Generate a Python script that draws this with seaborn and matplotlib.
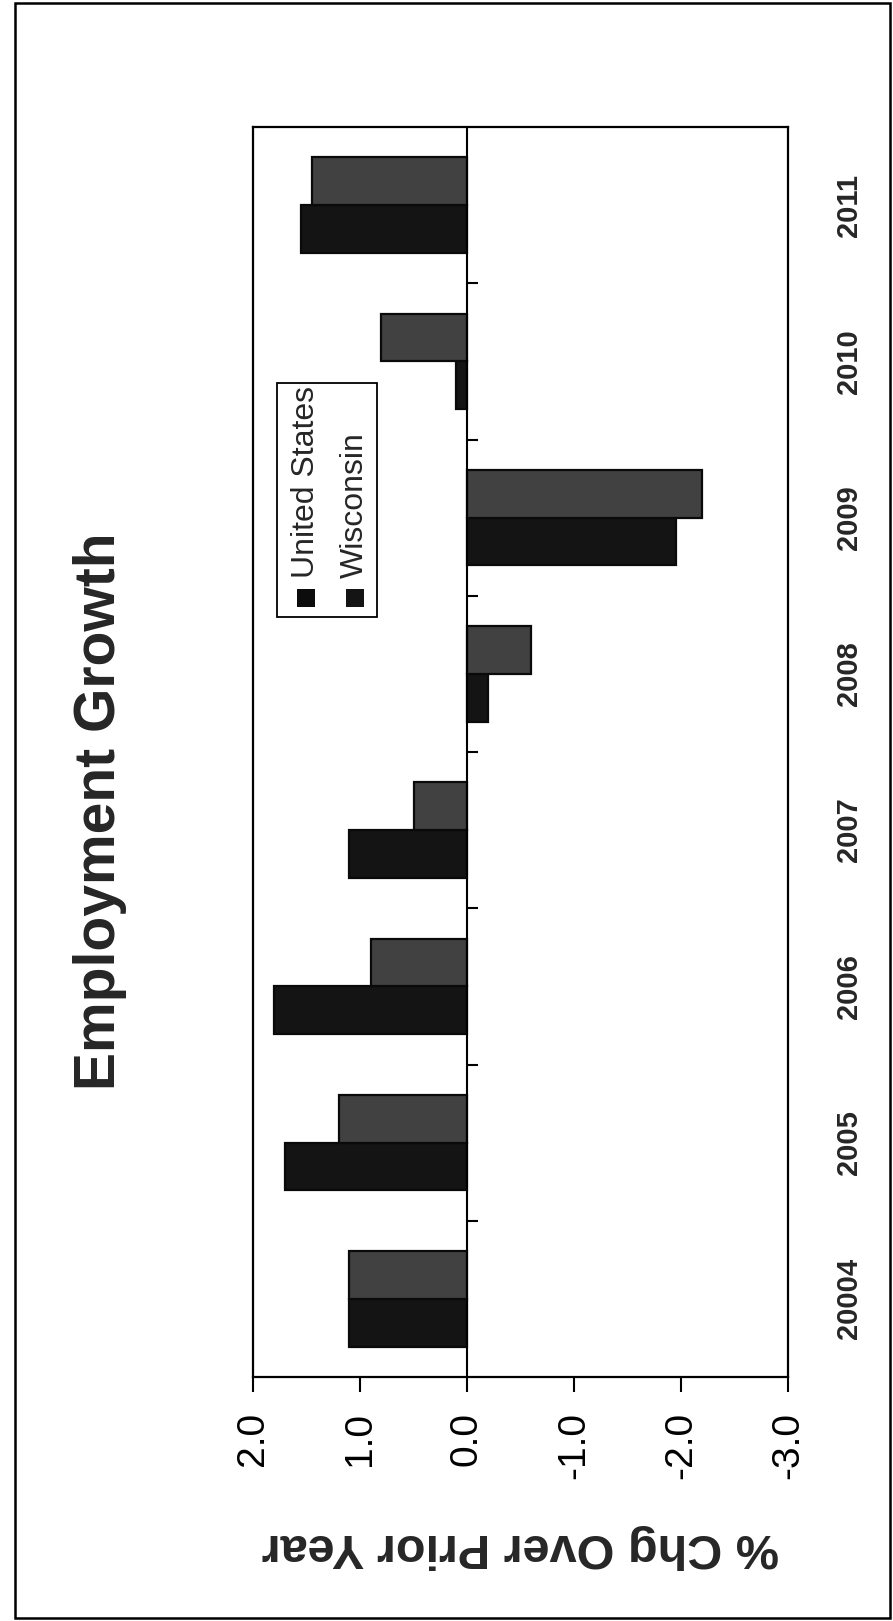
import numpy as np
import pandas as pd
import seaborn as sns
import matplotlib
matplotlib.use("Agg")
import matplotlib.pyplot as plt
from matplotlib.patches import Rectangle

# Annual employment growth, % change over prior year
years = ["20004", "2005", "2006", "2007", "2008", "2009", "2010", "2011"]
united_states = [1.1, 1.7, 1.8, 1.1, -0.2, -1.95, 0.1, 1.55]
wisconsin = [1.1, 1.2, 0.9, 0.5, -0.6, -2.2, 0.8, 1.45]
series_names = ["United States", "Wisconsin"]
value_ticks = [2.0, 1.0, 0.0, -1.0, -2.0, -3.0]
value_tick_labels = ["2.0", "1.0", "0.0", "-1.0", "-2.0", "-3.0"]

title = "Employment Growth"
value_label = "% Chg Over Prior Year"

df = pd.DataFrame({
    "year": years * 2,
    "value": united_states + wisconsin,
    "region": [series_names[0]] * len(years) + [series_names[1]] * len(years),
})

sns.set_style("white")
plt.rcParams["font.family"] = ["Liberation Sans", "DejaVu Sans"]

W, H = 893, 1621
fig = plt.figure(figsize=(W / 100, H / 100), dpi=100)
fig.patch.set_facecolor("white")

# plot box in pixel terms
left_px, right_px, top_px, bottom_px = 253, 788, 127, 1377
ax = fig.add_axes([left_px / W, (H - bottom_px) / H,
                   (right_px - left_px) / W, (bottom_px - top_px) / H])

colors = {"United States": "#141414", "Wisconsin": "#414141"}
sns.barplot(data=df, x="value", y="year", hue="region", order=years,
            hue_order=series_names, orient="h", width=0.61,
            palette=colors, saturation=1, edgecolor="#0a0a0a",
            linewidth=1.6, legend=False, ax=ax)

# categories run upward from the bottom; values decrease to the right
ax.invert_yaxis()
ax.set_ylim(-0.5, len(years) - 0.5)
ax.set_xlim(value_ticks[0], value_ticks[-1])

# category axis sits on the zero line with short ticks between groups
ax.axvline(0, color="black", lw=1.5, zorder=5)
bounds = np.arange(len(years) - 1) + 0.5
ax.hlines(bounds, 0, -0.1, color="black", lw=1.5, zorder=5)

for s in ax.spines.values():
    s.set_visible(True)
    s.set_color("black")
    s.set_linewidth(1.6)

ax.set_xticks(value_ticks)
ax.set_xticklabels(value_tick_labels, rotation=90, fontsize=28)
ax.tick_params(axis="x", direction="out", length=11, width=1.5,
               pad=14, bottom=True, colors="black")

ax.yaxis.tick_right()
ax.set_yticks(range(len(years)))
ax.set_yticklabels(years, rotation=90, fontsize=21, fontweight="bold",
                   va="center")
ax.tick_params(axis="y", length=0, pad=34)
ax.set_ylabel("")

ax.set_xlabel(value_label, rotation=180, fontsize=35, fontweight="bold",
              va="center")
ax.xaxis.set_label_coords(0.5, (bottom_px - 1546) / (bottom_px - top_px))

# legend box with vertical entries
lg_x0 = (277 - left_px) / (right_px - left_px)
lg_x1 = (377 - left_px) / (right_px - left_px)
lg_y0 = (bottom_px - 617) / (bottom_px - top_px)
lg_y1 = (bottom_px - 383) / (bottom_px - top_px)
ax.add_patch(Rectangle((lg_x0, lg_y0), lg_x1 - lg_x0, lg_y1 - lg_y0,
                       transform=ax.transAxes, facecolor="white",
                       edgecolor="black", lw=1.3, zorder=6))
sq_w = 18 / (right_px - left_px)
sq_h = 18 / (bottom_px - top_px)
for name, cx_px, sq_col in zip(series_names, [306, 355], ["#0c0c0c", "#141414"]):
    cx = (cx_px - left_px) / (right_px - left_px)
    cy = (bottom_px - 598) / (bottom_px - top_px)
    ax.add_patch(Rectangle((cx - sq_w / 2, cy - sq_h / 2), sq_w, sq_h,
                           transform=ax.transAxes, facecolor=sq_col,
                           edgecolor="none", zorder=7))
    ax.text(cx, (bottom_px - 578) / (bottom_px - top_px), name,
            transform=ax.transAxes, rotation=90, ha="center", va="bottom",
            fontsize=23, zorder=7)

fig.text(100 / W, (H - 811) / H, title, rotation=90, ha="center",
         va="center", fontsize=41, fontweight="bold")

# outer border around the whole figure
fig.add_artist(Rectangle((15 / W, 3 / H), (890 - 15) / W, (1618 - 3) / H,
                         transform=fig.transFigure, fill=False,
                         edgecolor="black", lw=1.8))

fig.savefig("out.png", dpi=100, facecolor="white")
